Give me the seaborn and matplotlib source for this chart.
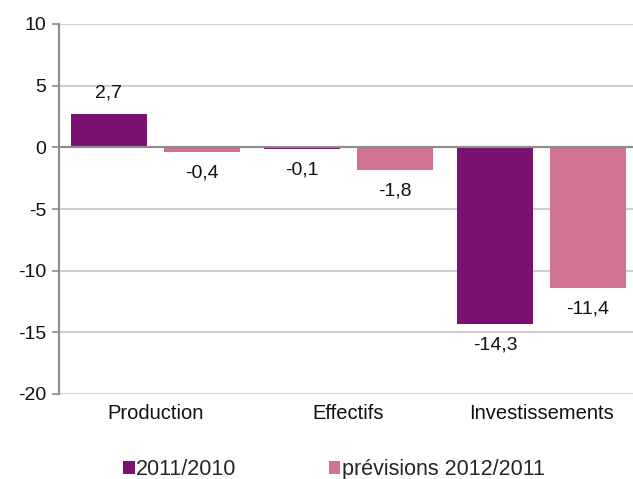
import matplotlib
matplotlib.use("Agg")
import matplotlib.pyplot as plt
import seaborn as sns
import pandas as pd
from matplotlib.patches import Patch

categories = ["Production", "Effectifs", "Investissements"]
series_names = ["2011/2010", "prévisions 2012/2011"]
values_2011 = [2.7, -0.1, -14.3]
values_2012 = [-0.4, -1.8, -11.4]
yticks = [-20, -15, -10, -5, 0, 5, 10]
colors = ["#7B1173", "#D27396"]

df = pd.DataFrame({
    "cat": categories * 2,
    "serie": [series_names[0]] * 3 + [series_names[1]] * 3,
    "val": values_2011 + values_2012,
})

sns.set_style("white")
plt.rcParams["font.family"] = ["Liberation Sans", "DejaVu Sans"]

fig = plt.figure(figsize=(6.33, 4.79), dpi=100)
ax = fig.add_axes([59 / 633, 1 - 394 / 479, 574 / 633, 370 / 479])

sns.barplot(data=df, x="cat", y="val", hue="serie", palette=colors,
            width=0.964, gap=0.183, ax=ax, legend=False, saturation=1,
            edgecolor="none", linewidth=0)

ax.set_ylim(-20, 10)
ax.set_xlim(-0.5, 2.474)
ax.set_yticks(yticks)
ax.set_yticklabels([str(t) for t in yticks])
ax.yaxis.grid(True, color="#D0D0D0", linewidth=1.5)
ax.set_axisbelow(True)
ax.axhline(0, color="#8C8C8C", linewidth=1.5, zorder=3)
for s in ["top", "right", "bottom"]:
    ax.spines[s].set_visible(False)
ax.spines["left"].set_color("#8C8C8C")
ax.spines["left"].set_linewidth(1.5)
ax.tick_params(axis="y", which="both", left=True, length=5, width=1.2,
               color="#8C8C8C", labelsize=14, pad=4, labelcolor="#111111")
ax.tick_params(axis="x", length=0, labelsize=14.5, pad=7, labelcolor="#111111")
ax.set_xlabel("")
ax.set_ylabel("")

for cont in ax.containers:
    labels = [f"{v:.1f}".replace(".", ",") for v in cont.datavalues]
    ax.bar_label(cont, labels=labels, padding=9, fontsize=14, color="#111111")

handles = [Patch(facecolor=c, edgecolor="none") for c in colors]
fig.legend(handles, series_names, loc="center", bbox_to_anchor=(0.527, 0.019),
           ncol=2, frameon=False, fontsize=15.5, handlelength=0.55,
           handleheight=0.55, handletextpad=0.05, columnspacing=4.3)

fig.savefig("out.png", dpi=100)
